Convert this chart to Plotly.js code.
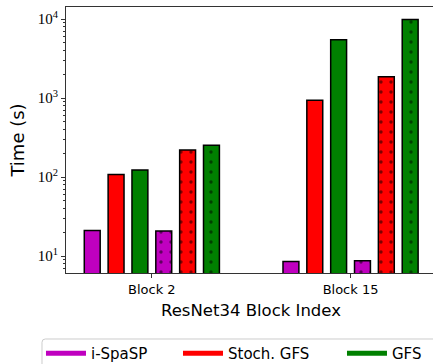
<!DOCTYPE html>
<html>
<head>
<meta charset="utf-8">
<script src="https://cdn.plot.ly/plotly-3.0.1.min.js"></script>
<style>
html, body { margin: 0; padding: 0; overflow: hidden; width: 433px; height: 364px; background: #fff; }
#chart { width: 440px; height: 380px; }
</style>
</head>
<body>
<div id="chart"></div>
<script>
// Data
const categories = ['Block 2', 'Block 15'];
const seriesNames = ['i-SpaSP', 'Stoch. GFS', 'GFS'];
const ispasp = [21, 8.5];
const stochGfs = [108, 935];
const gfs = [123, 5470];
const ispaspDotted = [20.8, 8.7];
const stochGfsDotted = [220, 1860];
const gfsDotted = [252, 9900];
const yTickVals = [10, 100, 1000, 10000];
const yTickText = ['10<sup>1</sup>', '10<sup>2</sup>', '10<sup>3</sup>', '10<sup>4</sup>'];

const colors = ['#bf00bf', '#ff0000', '#008000'];
const plainSeries = [ispasp, stochGfs, gfs];
const dottedSeries = [ispaspDotted, stochGfsDotted, gfsDotted];
const legendIds = ['legend', 'legend2', 'legend3'];
const legendX = [-0.0676, 0.3027, 0.7459];

const traces = [];
plainSeries.forEach((vals, i) => {
  traces.push({
    type: 'bar', x: categories, y: vals, name: seriesNames[i], showlegend: false,
    marker: { color: colors[i], line: { color: '#000', width: 1.5 } },
    hoverinfo: 'y'
  });
});
dottedSeries.forEach((vals, i) => {
  traces.push({
    type: 'bar', x: categories, y: vals, name: seriesNames[i] + ' (dotted)', showlegend: false,
    marker: {
      color: colors[i], line: { color: '#000', width: 1.5 },
      pattern: { shape: '.', fgcolor: '#000', bgcolor: colors[i], size: 10, solidity: 0.09, fillmode: 'overlay' }
    },
    hoverinfo: 'y'
  });
});
// legend-only line entries
seriesNames.forEach((n, i) => {
  traces.push({
    type: 'scatter', mode: 'lines', x: [null], y: [null], name: n, legend: legendIds[i],
    line: { color: colors[i], width: 5 }, showlegend: true, hoverinfo: 'skip'
  });
});

const legendBase = {
  orientation: 'h', xanchor: 'left', y: -0.2406, yanchor: 'top',
  borderwidth: 0, bgcolor: 'rgba(0,0,0,0)', itemwidth: 40,
  font: { family: 'DejaVu Sans, sans-serif', size: 15, color: '#000' }
};

// legend frame with a rounded visible corner (paper coordinates)
const fx0 = -0.0649, fx1 = 1.1, fyt = -0.2481, fyb = -0.40, rx = 0.009, ry = 0.0125;
const framePath = `M ${fx0},${fyb} L ${fx0},${fyt - ry} Q ${fx0},${fyt} ${fx0 + rx},${fyt} L ${fx1},${fyt}`;

const layout = {
  width: 440, height: 380,
  margin: { l: 66, r: 4, t: 7, b: 107 },
  paper_bgcolor: '#fff', plot_bgcolor: '#fff',
  barmode: 'group', bargap: 0.28, bargroupgap: 0.333,
  font: { family: 'DejaVu Sans, sans-serif', color: '#000' },
  xaxis: {
    type: 'category', range: [-0.432, 1.43],
    showline: true, linecolor: '#333', linewidth: 1, mirror: true,
    ticks: 'outside', ticklen: 4, tickcolor: '#333',
    tickfont: { family: 'DejaVu Sans, sans-serif', size: 13, color: '#000' },
    title: { text: 'ResNet34 Block Index', font: { family: 'DejaVu Sans, sans-serif', size: 16.5, color: '#000' }, standoff: 8 },
    showgrid: false, zeroline: false
  },
  yaxis: {
    type: 'log', range: [Math.log10(6.1), Math.log10(14200)],
    showline: true, linecolor: '#333', linewidth: 1, mirror: true,
    tickmode: 'array', tickvals: yTickVals, ticktext: yTickText,
    ticks: 'outside', ticklen: 4, tickcolor: '#333',
    minor: { ticks: 'outside', ticklen: 2, tickcolor: '#333', dtick: 'D1', showgrid: false },
    tickfont: { family: 'Liberation Serif, serif', size: 15, color: '#000' },
    title: { text: 'Time (s)', font: { family: 'DejaVu Sans, sans-serif', size: 18, color: '#000' }, standoff: 8 },
    showgrid: false, zeroline: false
  },
  legend: Object.assign({}, legendBase, { x: legendX[0] }),
  legend2: Object.assign({}, legendBase, { x: legendX[1] }),
  legend3: Object.assign({}, legendBase, { x: legendX[2] }),
  shapes: [{
    type: 'path', xref: 'paper', yref: 'paper', path: framePath,
    line: { color: '#cccccc', width: 1 }, layer: 'below'
  }]
};

Plotly.newPlot('chart', traces, layout, { displayModeBar: false, staticPlot: true });
</script>
</body>
</html>
